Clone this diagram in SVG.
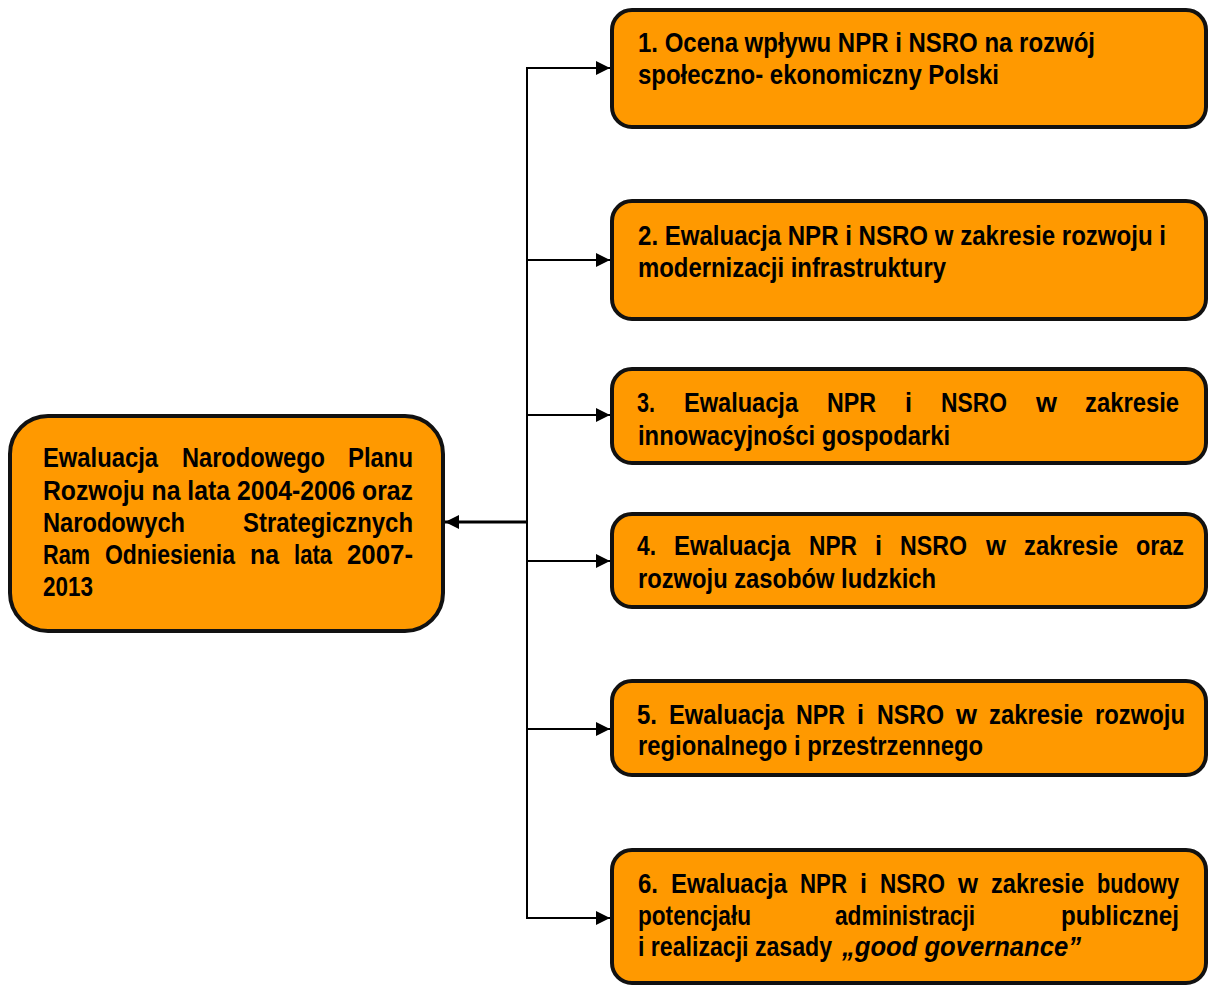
<svg xmlns="http://www.w3.org/2000/svg" width="1209" height="986" viewBox="0 0 1209 986">
<style>
.box{fill:#FF9900;stroke:#111;stroke-width:4}
.t{font-family:"Liberation Sans Narrow","Arial Narrow","Liberation Sans",Arial,sans-serif;font-weight:700;font-size:27px;fill:#000}
.i{font-style:italic}
.c{stroke:#000;stroke-width:2;fill:none}
</style>
<defs>
<marker id="ah" markerUnits="userSpaceOnUse" markerWidth="16" markerHeight="16" refX="14" refY="7" orient="auto">
<path d="M0,0 L14,7 L0,14 z" fill="#000"/>
</marker>
</defs>
<rect width="1209" height="986" fill="#fff"/>
<g id="connectors">
<line class="c" x1="527" y1="67" x2="527" y2="918"/>
<line class="c" x1="526" y1="68" x2="610" y2="68" marker-end="url(#ah)"/>
<line class="c" x1="527" y1="260" x2="610" y2="260" marker-end="url(#ah)"/>
<line class="c" x1="527" y1="415" x2="610" y2="415" marker-end="url(#ah)"/>
<line class="c" x1="527" y1="561" x2="610" y2="561" marker-end="url(#ah)"/>
<line class="c" x1="527" y1="729" x2="610" y2="729" marker-end="url(#ah)"/>
<line class="c" x1="526" y1="918" x2="610" y2="918" marker-end="url(#ah)"/>
<line class="c" style="stroke-width:3" x1="527" y1="522" x2="445" y2="522" marker-end="url(#ah)"/>
</g>
<g id="main">
<rect class="box" x="10" y="416" width="433" height="215" rx="38" ry="38"/>
<text class="t" x="43" y="467" textLength="115" lengthAdjust="spacingAndGlyphs">Ewaluacja</text>
<text class="t" x="182" y="467" textLength="143" lengthAdjust="spacingAndGlyphs">Narodowego</text>
<text class="t" x="348" y="467" textLength="65" lengthAdjust="spacingAndGlyphs">Planu</text>
<text class="t" x="43" y="500" textLength="370" lengthAdjust="spacingAndGlyphs">Rozwoju na lata 2004-2006 oraz</text>
<text class="t" x="43" y="532" textLength="142" lengthAdjust="spacingAndGlyphs">Narodowych</text>
<text class="t" x="243" y="532" textLength="170" lengthAdjust="spacingAndGlyphs">Strategicznych</text>
<text class="t" x="43" y="564" textLength="47" lengthAdjust="spacingAndGlyphs">Ram</text>
<text class="t" x="105" y="564" textLength="130" lengthAdjust="spacingAndGlyphs">Odniesienia</text>
<text class="t" x="250" y="564" textLength="29" lengthAdjust="spacingAndGlyphs">na</text>
<text class="t" x="294" y="564" textLength="38" lengthAdjust="spacingAndGlyphs">lata</text>
<text class="t" x="347" y="564" textLength="66" lengthAdjust="spacingAndGlyphs">2007-</text>
<text class="t" x="43" y="596" textLength="50" lengthAdjust="spacingAndGlyphs">2013</text>
</g>
<g id="n1">
<rect class="box" x="612" y="10" width="594" height="117" rx="20" ry="20"/>
<text class="t" x="638" y="52" textLength="457" lengthAdjust="spacingAndGlyphs">1. Ocena wpływu NPR i NSRO na rozwój</text>
<text class="t" x="638" y="84" textLength="361" lengthAdjust="spacingAndGlyphs">społeczno- ekonomiczny Polski</text>
</g>
<g id="n2">
<rect class="box" x="612" y="201" width="594" height="118" rx="20" ry="20"/>
<text class="t" x="638" y="245" textLength="528" lengthAdjust="spacingAndGlyphs">2. Ewaluacja NPR i NSRO w zakresie rozwoju i</text>
<text class="t" x="638" y="277" textLength="308" lengthAdjust="spacingAndGlyphs">modernizacji infrastruktury</text>
</g>
<g id="n3">
<rect class="box" x="612" y="369" width="594" height="94" rx="20" ry="20"/>
<text class="t" x="637" y="412" textLength="18" lengthAdjust="spacingAndGlyphs">3.</text>
<text class="t" x="684" y="412" textLength="114" lengthAdjust="spacingAndGlyphs">Ewaluacja</text>
<text class="t" x="827" y="412" textLength="49" lengthAdjust="spacingAndGlyphs">NPR</text>
<text class="t" x="905" y="412" textLength="7" lengthAdjust="spacingAndGlyphs">i</text>
<text class="t" x="941" y="412" textLength="66" lengthAdjust="spacingAndGlyphs">NSRO</text>
<text class="t" x="1036" y="412" textLength="21" lengthAdjust="spacingAndGlyphs">w</text>
<text class="t" x="1085" y="412" textLength="94" lengthAdjust="spacingAndGlyphs">zakresie</text>
<text class="t" x="638" y="445" textLength="312" lengthAdjust="spacingAndGlyphs">innowacyjności gospodarki</text>
</g>
<g id="n4">
<rect class="box" x="612" y="514" width="594" height="93" rx="20" ry="20"/>
<text class="t" x="637" y="555" textLength="19" lengthAdjust="spacingAndGlyphs">4.</text>
<text class="t" x="674" y="555" textLength="116" lengthAdjust="spacingAndGlyphs">Ewaluacja</text>
<text class="t" x="809" y="555" textLength="48" lengthAdjust="spacingAndGlyphs">NPR</text>
<text class="t" x="875" y="555" textLength="7" lengthAdjust="spacingAndGlyphs">i</text>
<text class="t" x="900" y="555" textLength="67" lengthAdjust="spacingAndGlyphs">NSRO</text>
<text class="t" x="986" y="555" textLength="20" lengthAdjust="spacingAndGlyphs">w</text>
<text class="t" x="1024" y="555" textLength="94" lengthAdjust="spacingAndGlyphs">zakresie</text>
<text class="t" x="1136" y="555" textLength="48" lengthAdjust="spacingAndGlyphs">oraz</text>
<text class="t" x="638" y="588" textLength="298" lengthAdjust="spacingAndGlyphs">rozwoju zasobów ludzkich</text>
</g>
<g id="n5">
<rect class="box" x="612" y="681" width="594" height="94" rx="20" ry="20"/>
<text class="t" x="637" y="724" textLength="20" lengthAdjust="spacingAndGlyphs">5.</text>
<text class="t" x="669" y="724" textLength="115" lengthAdjust="spacingAndGlyphs">Ewaluacja</text>
<text class="t" x="796" y="724" textLength="49" lengthAdjust="spacingAndGlyphs">NPR</text>
<text class="t" x="857" y="724" textLength="7" lengthAdjust="spacingAndGlyphs">i</text>
<text class="t" x="877" y="724" textLength="67" lengthAdjust="spacingAndGlyphs">NSRO</text>
<text class="t" x="956" y="724" textLength="21" lengthAdjust="spacingAndGlyphs">w</text>
<text class="t" x="989" y="724" textLength="94" lengthAdjust="spacingAndGlyphs">zakresie</text>
<text class="t" x="1095" y="724" textLength="90" lengthAdjust="spacingAndGlyphs">rozwoju</text>
<text class="t" x="638" y="755" textLength="345" lengthAdjust="spacingAndGlyphs">regionalnego i przestrzennego</text>
</g>
<g id="n6">
<rect class="box" x="612" y="850" width="594" height="133" rx="20" ry="20"/>
<text class="t" x="638" y="893" textLength="20" lengthAdjust="spacingAndGlyphs">6.</text>
<text class="t" x="671" y="893" textLength="116" lengthAdjust="spacingAndGlyphs">Ewaluacja</text>
<text class="t" x="800" y="893" textLength="47" lengthAdjust="spacingAndGlyphs">NPR</text>
<text class="t" x="860" y="893" textLength="7" lengthAdjust="spacingAndGlyphs">i</text>
<text class="t" x="880" y="893" textLength="65" lengthAdjust="spacingAndGlyphs">NSRO</text>
<text class="t" x="958" y="893" textLength="20" lengthAdjust="spacingAndGlyphs">w</text>
<text class="t" x="991" y="893" textLength="93" lengthAdjust="spacingAndGlyphs">zakresie</text>
<text class="t" x="1097" y="893" textLength="82" lengthAdjust="spacingAndGlyphs">budowy</text>
<text class="t" x="638" y="925" textLength="113" lengthAdjust="spacingAndGlyphs">potencjału</text>
<text class="t" x="835" y="925" textLength="140" lengthAdjust="spacingAndGlyphs">administracji</text>
<text class="t" x="1061" y="925" textLength="118" lengthAdjust="spacingAndGlyphs">publicznej</text>
<text class="t" x="638" y="956" textLength="194" lengthAdjust="spacingAndGlyphs">i realizacji zasady</text>
<text class="t i" x="842" y="956" textLength="239" lengthAdjust="spacingAndGlyphs">„good governance”</text>
</g>
</svg>
